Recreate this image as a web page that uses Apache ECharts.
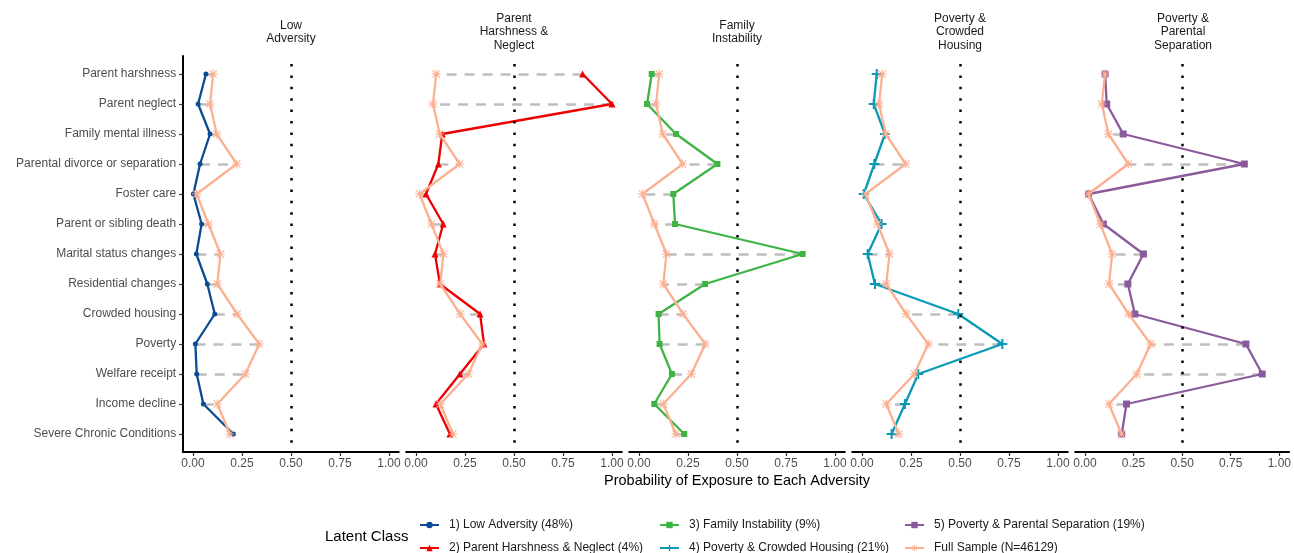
<!DOCTYPE html>
<html><head><meta charset="utf-8">
<script src="https://cdn.jsdelivr.net/npm/echarts@6/dist/echarts.min.js"></script>
<style>html,body{margin:0;padding:0;background:#fff}#c{width:1294px;height:553px}</style>
</head><body><div id="c"></div>
<script>
const categories = ['Parent harshness','Parent neglect','Family mental illness','Parental divorce or separation','Foster care','Parent or sibling death','Marital status changes','Residential changes','Crowded housing','Poverty','Welfare receipt','Income decline','Severe Chronic Conditions'];
const panelTitles = ['Low\nAdversity','Parent\nHarshness &\nNeglect','Family\nInstability','Poverty &\nCrowded\nHousing','Poverty &\nParental\nSeparation'];
const classNames = ['1) Low Adversity (48%)','2) Parent Harshness & Neglect (4%)','3) Family Instability (9%)','4) Poverty & Crowded Housing (21%)','5) Poverty & Parental Separation (19%)'];
const fullSampleName = 'Full Sample (N=46129)';
const fullSample = [0.103,0.087,0.121,0.223,0.018,0.079,0.140,0.124,0.225,0.338,0.267,0.124,0.188];
const lowAdversity = [0.066,0.026,0.087,0.036,0.002,0.044,0.017,0.073,0.111,0.012,0.019,0.053,0.206];
const harshNeglect = [0.850,1.000,0.134,0.114,0.051,0.139,0.097,0.122,0.327,0.347,0.224,0.102,0.173];
const familyInstability = [0.065,0.041,0.189,0.400,0.175,0.184,0.835,0.337,0.100,0.105,0.168,0.078,0.231];
const povertyCrowded = [0.075,0.060,0.117,0.063,0.009,0.100,0.029,0.066,0.491,0.716,0.287,0.219,0.151];
const povertySeparation = [0.104,0.112,0.197,0.820,0.019,0.095,0.301,0.221,0.257,0.828,0.912,0.214,0.189];
const xTicks = [0, 0.25, 0.5, 0.75, 1];
const threshold = 0.5;
const xTitle = 'Probability of Exposure to Each Adversity';
const legendTitle = 'Latent Class';

const classData = [lowAdversity, harshNeglect, familyInstability, povertyCrowded, povertySeparation];
const colors = ['#0A4C94','#EE0000','#3DB443','#0A99B4','#8A5A9C'];
const fsColor = '#FBB092';
const plusPath = 'path://M3.2,0H4.8V3.2H8V4.8H4.8V8H3.2V4.8H0V3.2H3.2Z';
const asteriskPath = 'path://M4.4,0H5.6V10H4.4Z M0,4.4H10V5.6H0Z M1.42,0.58L9.42,8.58L8.58,9.42L0.58,1.42Z M9.42,1.42L1.42,9.42L0.58,8.58L8.58,0.58Z';
const symbols = ['circle','triangle','rect',plusPath,'rect'];
const sizes = [5,7,6,10,7];
const font = '"Liberation Sans", Arial, sans-serif';
const yIdx = categories.map((c,i)=>i);

const grids = [], xAxes = [], yAxes = [], series = [], graphics = [];
for (let k = 0; k < 5; k++) {
  const left = 183.2 + 223*k;
  grids.push({left: left, top: 56, width: 215.6, height: 396});
  xAxes.push({type:'value', gridIndex:k, min:-0.05, max:1.05,
    splitLine:{show:false},
    axisLine:{show:true, onZero:false, lineStyle:{color:'#000', width:2}},
    axisTick:{show:true, customValues:xTicks, length:4, lineStyle:{color:'#333', width:1.2}},
    axisLabel:{show:true, customValues:xTicks, formatter:v=>Number(v).toFixed(2), color:'#4d4d4d', fontSize:12, fontFamily:font, margin:6}
  });
  yAxes.push({type:'value', gridIndex:k, min:-0.6, max:12.6, inverse:true,
    splitLine:{show:false},
    axisLine:{show:k===0, onZero:false, lineStyle:{color:'#000', width:2}},
    axisTick:{show:k===0, customValues:yIdx, length:4, lineStyle:{color:'#333', width:1.2}},
    axisLabel:{show:k===0, customValues:yIdx, formatter:v=>categories[Math.round(v)], color:'#4d4d4d', fontSize:12, fontFamily:font, margin:7}
  });
  const cd = classData[k];
  series.push({type:'lines', coordinateSystem:'cartesian2d', xAxisIndex:k, yAxisIndex:k, silent:true, z:1,
    data: cd.map((v,i)=>({coords:[[v,i],[fullSample[i],i]]})),
    lineStyle:{color:'#BEBEBE', width:2.5, type:[10,8], opacity:1}
  });
  series.push({type:'line', name:classNames[k], xAxisIndex:k, yAxisIndex:k, silent:true, z:3,
    data: cd.map((v,i)=>[v,i]), symbol:symbols[k], symbolSize:sizes[k], symbolKeepAspect:true, showSymbol:true,
    lineStyle:{color:colors[k], width:2.3}, itemStyle:{color:colors[k]}, emphasis:{disabled:true}
  });
  series.push({type:'line', name:fullSampleName, xAxisIndex:k, yAxisIndex:k, silent:true, z:4,
    data: fullSample.map((v,i)=>[v,i]), symbol:asteriskPath, symbolSize:9, symbolKeepAspect:true, showSymbol:true,
    lineStyle:{color:fsColor, width:2.3}, itemStyle:{color:fsColor}, emphasis:{disabled:true}
  });
  series.push({type:'lines', coordinateSystem:'cartesian2d', xAxisIndex:k, yAxisIndex:k, silent:true, z:10,
    data:[{coords:[[threshold,-0.6],[threshold,12.6]]}],
    lineStyle:{color:'#000', width:2.5, type:[2.5,8.9], dashOffset:3.4, opacity:1}
  });
  graphics.push({type:'text', x: 193 + 98 + 223*k, y: 32, silent:true,
    style:{text:panelTitles[k], fill:'#1a1a1a', fontSize:12, fontFamily:font, lineHeight:13.5,
      align:'center', verticalAlign:'middle', textAlign:'center', textVerticalAlign:'middle'}});
}
graphics.push({type:'text', x:737, y:481, silent:true,
  style:{text:xTitle, fill:'#000', fontSize:14.5, fontFamily:font, align:'center', verticalAlign:'middle', textAlign:'center', textVerticalAlign:'middle'}});
graphics.push({type:'text', x:325, y:537, silent:true,
  style:{text:legendTitle, fill:'#000', fontSize:15, fontFamily:font, align:'left', verticalAlign:'middle', textAlign:'left', textVerticalAlign:'middle'}});

const legendBase = {type:'plain', orient:'vertical', top:518, height:80, width:260, itemWidth:19, itemHeight:8, itemGap:9, padding:0, selectedMode:false,
  textStyle:{fontSize:12, lineHeight:14, color:'#1a1a1a', fontFamily:font, padding:[0,0,0,5]}};
const legends = [
  Object.assign({}, legendBase, {left:419, data:[classNames[0], classNames[1]]}),
  Object.assign({}, legendBase, {left:659, data:[classNames[2], classNames[3]]}),
  Object.assign({}, legendBase, {left:904, data:[classNames[4], fullSampleName]})
];

const chart = echarts.init(document.getElementById('c'), null, {renderer:'canvas'});
chart.setOption({
  animation:false, backgroundColor:'#fff',
  grid:grids, xAxis:xAxes, yAxis:yAxes, series:series, graphic:graphics, legend:legends
});
</script></body></html>
